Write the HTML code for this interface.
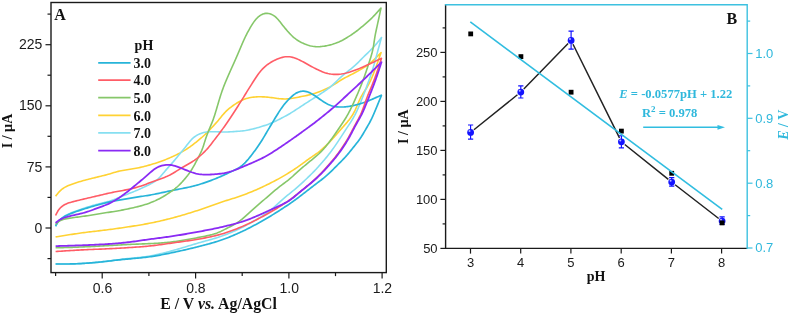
<!DOCTYPE html>
<html><head><meta charset="utf-8"><style>
html,body{margin:0;padding:0;background:#fff;}
body{width:789px;height:315px;overflow:hidden;font-family:"Liberation Sans",sans-serif;}
svg{display:block;will-change:transform;}
</style></head><body>
<svg width="789" height="315" viewBox="0 0 789 315">
<rect width="789" height="315" fill="#fff"/>
<path d="M55.60,196.30 L56.49,195.10 L57.39,193.91 L58.33,192.76 L59.33,191.66 L60.38,190.61 L61.48,189.63 L62.65,188.72 L63.87,187.89 L65.15,187.13 L66.46,186.44 L67.81,185.81 L69.19,185.22 L70.58,184.68 L71.99,184.16 L73.40,183.67 L74.82,183.19 L76.25,182.73 L77.69,182.28 L79.12,181.85 L80.56,181.42 L82.00,181.00 L83.45,180.60 L84.89,180.20 L86.34,179.81 L87.79,179.43 L89.25,179.05 L90.70,178.69 L92.16,178.32 L93.62,177.96 L95.07,177.60 L96.53,177.25 L97.99,176.89 L99.45,176.54 L100.91,176.19 L102.37,175.83 L103.82,175.47 L105.28,175.10 L106.73,174.71 L108.17,174.31 L109.61,173.90 L111.05,173.46 L112.48,173.02 L113.91,172.58 L115.35,172.16 L116.79,171.76 L118.24,171.40 L119.70,171.06 L121.17,170.76 L122.65,170.49 L124.12,170.23 L125.60,169.99 L127.08,169.75 L128.57,169.51 L130.05,169.27 L131.53,169.03 L133.01,168.79 L134.49,168.53 L135.96,168.26 L137.44,167.97 L138.91,167.67 L140.37,167.35 L141.83,167.01 L143.29,166.66 L144.75,166.29 L146.20,165.91 L147.65,165.52 L149.09,165.12 L150.54,164.71 L151.98,164.29 L153.41,163.85 L154.85,163.41 L156.28,162.95 L157.70,162.48 L159.12,162.00 L160.54,161.50 L161.95,160.99 L163.36,160.47 L164.75,159.93 L166.15,159.37 L167.54,158.80 L168.92,158.22 L170.30,157.62 L171.67,157.01 L173.03,156.39 L174.39,155.76 L175.75,155.11 L177.10,154.45 L178.44,153.78 L179.77,153.09 L181.09,152.39 L182.41,151.67 L183.71,150.92 L185.00,150.15 L186.27,149.36 L187.52,148.54 L188.76,147.69 L189.98,146.82 L191.19,145.93 L192.38,145.03 L193.57,144.11 L194.76,143.19 L195.93,142.26 L197.11,141.32 L198.27,140.38 L199.43,139.43 L200.58,138.46 L201.72,137.49 L202.85,136.49 L203.96,135.49 L205.06,134.47 L206.14,133.43 L207.22,132.38 L208.27,131.32 L209.32,130.24 L210.36,129.16 L211.38,128.07 L212.41,126.97 L213.43,125.87 L214.44,124.76 L215.45,123.65 L216.45,122.53 L217.44,121.41 L218.42,120.27 L219.37,119.11 L220.32,117.95 L221.26,116.78 L222.20,115.62 L223.16,114.47 L224.15,113.35 L225.16,112.25 L226.22,111.19 L227.31,110.17 L228.43,109.18 L229.58,108.22 L230.75,107.29 L231.95,106.39 L233.17,105.51 L234.40,104.66 L235.65,103.83 L236.92,103.04 L238.20,102.27 L239.51,101.54 L240.84,100.85 L242.18,100.20 L243.55,99.60 L244.94,99.06 L246.35,98.58 L247.78,98.16 L249.23,97.80 L250.69,97.50 L252.16,97.27 L253.65,97.08 L255.14,96.95 L256.63,96.86 L258.13,96.81 L259.63,96.79 L261.13,96.80 L262.62,96.84 L264.12,96.90 L265.62,96.99 L267.11,97.10 L268.61,97.25 L270.10,97.42 L271.58,97.61 L273.07,97.81 L274.55,98.03 L276.04,98.24 L277.53,98.43 L279.01,98.61 L280.50,98.75 L282.00,98.85 L283.49,98.91 L284.99,98.93 L286.48,98.89 L287.98,98.81 L289.47,98.68 L290.95,98.50 L292.43,98.29 L293.91,98.04 L295.38,97.76 L296.86,97.47 L298.33,97.18 L299.80,96.88 L301.27,96.58 L302.74,96.28 L304.21,95.98 L305.68,95.67 L307.14,95.35 L308.60,95.01 L310.06,94.64 L311.51,94.26 L312.95,93.85 L314.38,93.42 L315.81,92.96 L317.23,92.47 L318.64,91.96 L320.04,91.43 L321.43,90.87 L322.82,90.30 L324.19,89.70 L325.57,89.10 L326.93,88.47 L328.28,87.82 L329.61,87.14 L330.92,86.43 L332.22,85.68 L333.50,84.90 L334.76,84.10 L336.02,83.28 L337.27,82.46 L338.53,81.64 L339.80,80.83 L341.07,80.05 L342.36,79.28 L343.66,78.53 L344.97,77.81 L346.30,77.11 L347.63,76.42 L348.97,75.75 L350.31,75.07 L351.65,74.39 L352.99,73.71 L354.32,73.01 L355.64,72.31 L356.96,71.60 L358.28,70.87 L359.59,70.14 L360.89,69.40 L362.19,68.64 L363.47,67.87 L364.74,67.08 L366.00,66.26 L367.24,65.42 L368.45,64.54 L369.64,63.63 L370.80,62.69 L371.93,61.71 L373.04,60.70 L374.12,59.67 L375.19,58.62 L376.25,57.55 L377.29,56.47 L378.33,55.39 L379.37,54.31 L380.41,53.22 L381.10,52.50 L381.10,52.50 L380.61,53.92 L380.11,55.34 L379.62,56.76 L379.13,58.17 L378.63,59.59 L378.13,61.01 L377.63,62.42 L377.13,63.84 L376.62,65.25 L376.11,66.66 L375.59,68.07 L375.06,69.48 L374.54,70.88 L374.00,72.29 L373.45,73.68 L372.89,75.08 L372.32,76.47 L371.73,77.85 L371.13,79.22 L370.51,80.59 L369.86,81.94 L369.20,83.29 L368.51,84.62 L367.80,85.94 L367.05,87.24 L366.28,88.52 L365.47,89.78 L364.65,91.03 L363.82,92.27 L363.00,93.53 L362.22,94.80 L361.47,96.09 L360.77,97.41 L360.11,98.76 L359.49,100.12 L358.88,101.49 L358.30,102.87 L357.72,104.26 L357.14,105.64 L356.55,107.02 L355.94,108.39 L355.31,109.75 L354.65,111.10 L353.96,112.43 L353.23,113.74 L352.47,115.02 L351.66,116.28 L350.81,117.51 L349.93,118.72 L349.02,119.91 L348.08,121.08 L347.12,122.24 L346.15,123.38 L345.16,124.51 L344.17,125.64 L343.18,126.77 L342.18,127.89 L341.19,129.02 L340.20,130.15 L339.22,131.28 L338.24,132.42 L337.25,133.55 L336.26,134.68 L335.27,135.81 L334.27,136.93 L333.26,138.04 L332.25,139.15 L331.22,140.25 L330.19,141.34 L329.15,142.42 L328.11,143.50 L327.05,144.57 L325.98,145.62 L324.91,146.67 L323.82,147.70 L322.71,148.71 L321.58,149.70 L320.44,150.67 L319.27,151.60 L318.08,152.52 L316.87,153.41 L315.65,154.27 L314.41,155.12 L313.17,155.96 L311.92,156.80 L310.68,157.65 L309.45,158.50 L308.22,159.37 L307.00,160.24 L305.79,161.13 L304.59,162.03 L303.38,162.92 L302.18,163.82 L300.97,164.71 L299.75,165.59 L298.52,166.45 L297.29,167.31 L296.05,168.15 L294.80,168.98 L293.54,169.81 L292.28,170.62 L291.01,171.43 L289.75,172.23 L288.47,173.03 L287.20,173.82 L285.91,174.60 L284.63,175.38 L283.34,176.14 L282.04,176.89 L280.73,177.64 L279.42,178.37 L278.11,179.09 L276.78,179.80 L275.46,180.50 L274.13,181.20 L272.79,181.89 L271.46,182.57 L270.12,183.25 L268.77,183.92 L267.43,184.59 L266.08,185.25 L264.72,185.90 L263.37,186.55 L262.01,187.18 L260.65,187.81 L259.28,188.44 L257.91,189.05 L256.53,189.65 L255.16,190.25 L253.77,190.83 L252.39,191.41 L251.00,191.98 L249.61,192.54 L248.21,193.10 L246.81,193.64 L245.41,194.18 L244.00,194.71 L242.59,195.23 L241.18,195.74 L239.77,196.24 L238.35,196.73 L236.92,197.21 L235.50,197.68 L234.07,198.14 L232.64,198.59 L231.20,199.04 L229.77,199.48 L228.33,199.92 L226.90,200.37 L225.47,200.82 L224.04,201.27 L222.61,201.74 L221.18,202.21 L219.76,202.69 L218.34,203.18 L216.92,203.67 L215.51,204.17 L214.09,204.68 L212.68,205.18 L211.26,205.69 L209.85,206.20 L208.44,206.71 L207.03,207.22 L205.61,207.72 L204.20,208.23 L202.78,208.72 L201.36,209.21 L199.94,209.69 L198.51,210.17 L197.09,210.64 L195.66,211.11 L194.23,211.57 L192.80,212.02 L191.37,212.47 L189.93,212.92 L188.50,213.36 L187.06,213.80 L185.62,214.23 L184.18,214.66 L182.74,215.08 L181.30,215.50 L179.86,215.91 L178.41,216.32 L176.96,216.72 L175.52,217.12 L174.07,217.51 L172.62,217.90 L171.16,218.28 L169.71,218.66 L168.26,219.03 L166.80,219.40 L165.34,219.76 L163.88,220.12 L162.42,220.47 L160.96,220.82 L159.50,221.16 L158.03,221.49 L156.57,221.81 L155.10,222.13 L153.63,222.44 L152.16,222.74 L150.69,223.04 L149.21,223.33 L147.74,223.61 L146.26,223.89 L144.79,224.16 L143.31,224.42 L141.83,224.68 L140.35,224.93 L138.87,225.18 L137.39,225.43 L135.90,225.67 L134.42,225.90 L132.94,226.14 L131.45,226.37 L129.97,226.60 L128.48,226.82 L127.00,227.05 L125.51,227.27 L124.03,227.49 L122.54,227.70 L121.06,227.92 L119.57,228.13 L118.08,228.35 L116.60,228.56 L115.11,228.77 L113.62,228.97 L112.13,229.17 L110.65,229.37 L109.16,229.57 L107.67,229.76 L106.18,229.95 L104.69,230.13 L103.20,230.31 L101.70,230.49 L100.21,230.66 L98.72,230.84 L97.23,231.01 L95.74,231.18 L94.25,231.36 L92.75,231.53 L91.26,231.71 L89.77,231.89 L88.28,232.07 L86.79,232.25 L85.30,232.44 L83.81,232.64 L82.32,232.83 L80.84,233.04 L79.35,233.25 L77.86,233.46 L76.38,233.68 L74.89,233.90 L73.41,234.12 L71.92,234.35 L70.44,234.57 L68.95,234.80 L67.47,235.04 L65.99,235.27 L64.50,235.50 L63.02,235.74 L61.53,235.97 L60.05,236.20 L58.57,236.44 L57.08,236.67 L55.60,236.90" stroke="#ffd233" stroke-width="1.60" fill="none" stroke-linejoin="round"/>
<path d="M55.60,226.50 L56.23,225.17 L56.90,223.86 L57.64,222.60 L58.47,221.41 L59.41,220.28 L60.43,219.24 L61.54,218.26 L62.71,217.36 L63.94,216.52 L65.21,215.75 L66.52,215.03 L67.85,214.35 L69.21,213.72 L70.58,213.11 L71.96,212.54 L73.35,211.98 L74.76,211.44 L76.16,210.92 L77.57,210.41 L78.99,209.90 L80.40,209.41 L81.83,208.93 L83.25,208.46 L84.68,208.00 L86.11,207.54 L87.54,207.10 L88.98,206.66 L90.42,206.23 L91.86,205.81 L93.30,205.39 L94.74,204.98 L96.19,204.58 L97.64,204.18 L99.09,203.80 L100.54,203.42 L102.00,203.06 L103.45,202.70 L104.91,202.34 L106.36,201.97 L107.81,201.58 L109.25,201.17 L110.68,200.72 L112.10,200.24 L113.51,199.73 L114.91,199.20 L116.31,198.64 L117.70,198.08 L119.08,197.51 L120.47,196.94 L121.86,196.38 L123.26,195.81 L124.65,195.26 L126.05,194.71 L127.44,194.16 L128.84,193.61 L130.24,193.06 L131.63,192.50 L133.02,191.94 L134.41,191.37 L135.80,190.79 L137.18,190.21 L138.56,189.61 L139.93,189.00 L141.30,188.39 L142.66,187.77 L144.03,187.14 L145.38,186.49 L146.74,185.84 L148.08,185.19 L149.42,184.51 L150.75,183.82 L152.07,183.10 L153.36,182.35 L154.61,181.55 L155.83,180.69 L157.00,179.78 L158.12,178.80 L159.20,177.77 L160.23,176.70 L161.24,175.59 L162.22,174.46 L163.19,173.32 L164.16,172.17 L165.13,171.03 L166.11,169.89 L167.10,168.76 L168.09,167.64 L169.09,166.52 L170.09,165.40 L171.08,164.27 L172.07,163.14 L173.05,162.00 L174.01,160.86 L174.98,159.70 L175.94,158.55 L176.89,157.39 L177.85,156.23 L178.80,155.08 L179.76,153.92 L180.72,152.77 L181.68,151.62 L182.65,150.46 L183.60,149.31 L184.55,148.15 L185.49,146.98 L186.42,145.80 L187.34,144.61 L188.25,143.42 L189.17,142.25 L190.12,141.10 L191.11,139.98 L192.14,138.92 L193.23,137.92 L194.38,136.99 L195.59,136.12 L196.84,135.32 L198.13,134.60 L199.46,133.96 L200.83,133.41 L202.24,132.95 L203.67,132.57 L205.12,132.28 L206.60,132.05 L208.08,131.89 L209.57,131.78 L211.07,131.71 L212.56,131.68 L214.06,131.69 L215.56,131.72 L217.06,131.78 L218.56,131.85 L220.06,131.92 L221.55,131.98 L223.05,132.02 L224.55,132.03 L226.05,132.01 L227.54,131.95 L229.04,131.87 L230.54,131.78 L232.03,131.68 L233.53,131.59 L235.03,131.50 L236.53,131.41 L238.02,131.32 L239.52,131.20 L241.01,131.06 L242.50,130.90 L243.99,130.70 L245.47,130.48 L246.95,130.22 L248.42,129.94 L249.89,129.64 L251.35,129.32 L252.81,128.97 L254.27,128.61 L255.72,128.22 L257.16,127.82 L258.61,127.41 L260.05,126.98 L261.48,126.54 L262.91,126.09 L264.34,125.63 L265.76,125.15 L267.18,124.65 L268.58,124.13 L269.98,123.59 L271.37,123.03 L272.75,122.44 L274.12,121.83 L275.48,121.19 L276.83,120.54 L278.17,119.87 L279.51,119.18 L280.84,118.49 L282.17,117.80 L283.50,117.10 L284.82,116.39 L286.14,115.68 L287.46,114.95 L288.76,114.21 L290.06,113.46 L291.34,112.68 L292.62,111.89 L293.88,111.09 L295.14,110.27 L296.40,109.45 L297.65,108.63 L298.91,107.80 L300.16,106.97 L301.42,106.15 L302.67,105.33 L303.93,104.50 L305.18,103.69 L306.44,102.87 L307.71,102.06 L308.97,101.25 L310.24,100.44 L311.51,99.64 L312.78,98.84 L314.05,98.05 L315.32,97.25 L316.59,96.44 L317.86,95.64 L319.12,94.83 L320.38,94.01 L321.63,93.19 L322.88,92.36 L324.13,91.52 L325.37,90.67 L326.59,89.80 L327.80,88.92 L328.99,88.01 L330.16,87.07 L331.30,86.11 L332.43,85.12 L333.54,84.11 L334.63,83.08 L335.72,82.05 L336.80,81.01 L337.88,79.97 L338.97,78.93 L340.07,77.91 L341.17,76.89 L342.29,75.90 L343.43,74.91 L344.58,73.95 L345.74,73.00 L346.91,72.06 L348.09,71.13 L349.26,70.20 L350.44,69.27 L351.61,68.33 L352.77,67.37 L353.91,66.40 L355.03,65.41 L356.13,64.39 L357.22,63.36 L358.29,62.31 L359.35,61.25 L360.41,60.18 L361.46,59.12 L362.52,58.05 L363.58,56.99 L364.65,55.94 L365.72,54.89 L366.80,53.84 L367.88,52.80 L368.95,51.75 L370.02,50.70 L371.09,49.64 L372.14,48.56 L373.17,47.48 L374.19,46.38 L375.19,45.26 L376.17,44.12 L377.13,42.97 L378.08,41.81 L379.02,40.64 L379.95,39.46 L380.88,38.29 L381.50,37.50 L381.50,37.50 L381.10,38.95 L380.70,40.39 L380.30,41.84 L379.90,43.28 L379.50,44.73 L379.10,46.18 L378.71,47.62 L378.31,49.07 L377.91,50.52 L377.52,51.96 L377.13,53.41 L376.74,54.86 L376.36,56.31 L375.97,57.76 L375.58,59.21 L375.19,60.66 L374.79,62.10 L374.38,63.55 L373.96,64.99 L373.54,66.43 L373.11,67.86 L372.66,69.30 L372.21,70.73 L371.75,72.15 L371.28,73.58 L370.81,75.00 L370.33,76.42 L369.84,77.84 L369.34,79.26 L368.84,80.67 L368.33,82.08 L367.82,83.49 L367.30,84.90 L366.78,86.31 L366.26,87.71 L365.74,89.12 L365.21,90.52 L364.68,91.93 L364.14,93.33 L363.60,94.72 L363.05,96.12 L362.50,97.52 L361.95,98.91 L361.40,100.31 L360.84,101.70 L360.28,103.09 L359.71,104.48 L359.13,105.86 L358.55,107.25 L357.95,108.62 L357.33,109.99 L356.70,111.35 L356.05,112.70 L355.38,114.04 L354.69,115.37 L353.97,116.68 L353.23,117.98 L352.46,119.27 L351.68,120.55 L350.88,121.82 L350.07,123.08 L349.25,124.34 L348.42,125.59 L347.60,126.84 L346.77,128.09 L345.95,129.35 L345.13,130.61 L344.32,131.87 L343.51,133.13 L342.70,134.39 L341.88,135.65 L341.07,136.91 L340.25,138.17 L339.43,139.43 L338.61,140.68 L337.78,141.93 L336.94,143.17 L336.09,144.41 L335.24,145.64 L334.37,146.87 L333.50,148.09 L332.62,149.31 L331.74,150.52 L330.84,151.72 L329.94,152.92 L329.02,154.11 L328.10,155.29 L327.17,156.46 L326.22,157.62 L325.27,158.78 L324.30,159.93 L323.33,161.07 L322.35,162.21 L321.36,163.34 L320.37,164.46 L319.38,165.59 L318.38,166.70 L317.37,167.82 L316.36,168.92 L315.33,170.02 L314.30,171.10 L313.25,172.18 L312.20,173.25 L311.14,174.30 L310.07,175.36 L308.99,176.40 L307.91,177.44 L306.82,178.48 L305.73,179.51 L304.64,180.53 L303.54,181.56 L302.44,182.57 L301.34,183.59 L300.23,184.60 L299.11,185.60 L297.99,186.60 L296.86,187.59 L295.73,188.57 L294.59,189.54 L293.44,190.51 L292.28,191.46 L291.12,192.41 L289.96,193.36 L288.79,194.29 L287.62,195.23 L286.45,196.18 L285.29,197.13 L284.14,198.08 L282.99,199.05 L281.86,200.04 L280.75,201.04 L279.64,202.05 L278.55,203.08 L277.46,204.11 L276.37,205.14 L275.27,206.16 L274.16,207.17 L273.04,208.16 L271.90,209.13 L270.74,210.07 L269.55,210.99 L268.35,211.89 L267.14,212.76 L265.90,213.62 L264.66,214.46 L263.41,215.28 L262.15,216.10 L260.88,216.90 L259.61,217.69 L258.32,218.47 L257.04,219.24 L255.75,220.00 L254.45,220.76 L253.15,221.50 L251.84,222.24 L250.53,222.97 L249.22,223.70 L247.90,224.41 L246.58,225.12 L245.25,225.82 L243.92,226.51 L242.58,227.19 L241.24,227.85 L239.89,228.51 L238.54,229.16 L237.18,229.80 L235.82,230.42 L234.45,231.04 L233.08,231.64 L231.70,232.23 L230.32,232.81 L228.93,233.38 L227.53,233.94 L226.14,234.48 L224.74,235.02 L223.33,235.54 L221.92,236.04 L220.50,236.54 L219.08,237.01 L217.65,237.48 L216.22,237.93 L214.79,238.37 L213.35,238.79 L211.91,239.21 L210.47,239.62 L209.02,240.02 L207.58,240.43 L206.13,240.82 L204.68,241.22 L203.24,241.62 L201.79,242.02 L200.35,242.43 L198.91,242.85 L197.47,243.26 L196.03,243.69 L194.59,244.12 L193.15,244.55 L191.72,244.98 L190.28,245.42 L188.85,245.86 L187.41,246.30 L185.98,246.74 L184.54,247.17 L183.11,247.61 L181.67,248.03 L180.23,248.46 L178.79,248.88 L177.35,249.29 L175.91,249.70 L174.46,250.10 L173.01,250.50 L171.57,250.89 L170.12,251.28 L168.67,251.67 L167.22,252.05 L165.77,252.43 L164.31,252.80 L162.86,253.17 L161.40,253.53 L159.94,253.88 L158.48,254.22 L157.02,254.55 L155.55,254.86 L154.08,255.17 L152.61,255.46 L151.14,255.74 L149.66,256.00 L148.18,256.25 L146.70,256.48 L145.22,256.70 L143.73,256.90 L142.24,257.09 L140.76,257.27 L139.27,257.44 L137.77,257.61 L136.28,257.77 L134.79,257.92 L133.30,258.07 L131.81,258.22 L130.31,258.37 L128.82,258.52 L127.33,258.67 L125.84,258.83 L124.34,258.99 L122.85,259.16 L121.36,259.33 L119.87,259.51 L118.39,259.69 L116.90,259.88 L115.41,260.08 L113.92,260.27 L112.44,260.47 L110.95,260.67 L109.46,260.87 L107.97,261.06 L106.49,261.25 L105.00,261.44 L103.51,261.62 L102.02,261.80 L100.53,261.97 L99.04,262.13 L97.54,262.28 L96.05,262.42 L94.56,262.56 L93.06,262.69 L91.57,262.82 L90.07,262.94 L88.58,263.06 L87.08,263.16 L85.58,263.27 L84.09,263.37 L82.59,263.46 L81.09,263.55 L79.59,263.63 L78.10,263.70 L76.60,263.76 L75.10,263.82 L73.60,263.87 L72.10,263.91 L70.60,263.94 L69.10,263.96 L67.60,263.97 L66.10,263.97 L64.60,263.97 L63.10,263.96 L61.60,263.95 L60.10,263.94 L58.60,263.92 L57.10,263.91 L55.60,263.90" stroke="#86dff1" stroke-width="1.60" fill="none" stroke-linejoin="round"/>
<path d="M55.60,226.00 L56.29,224.72 L57.02,223.47 L57.84,222.27 L58.75,221.15 L59.76,220.10 L60.86,219.12 L62.02,218.21 L63.24,217.36 L64.51,216.58 L65.81,215.85 L67.14,215.18 L68.50,214.55 L69.88,213.95 L71.27,213.39 L72.66,212.85 L74.07,212.33 L75.48,211.82 L76.90,211.32 L78.32,210.83 L79.74,210.35 L81.17,209.87 L82.59,209.41 L84.03,208.96 L85.46,208.51 L86.89,208.07 L88.33,207.64 L89.77,207.21 L91.21,206.79 L92.66,206.37 L94.10,205.96 L95.54,205.55 L96.99,205.14 L98.44,204.74 L99.89,204.35 L101.34,203.96 L102.79,203.57 L104.24,203.20 L105.70,202.84 L107.16,202.49 L108.62,202.15 L110.09,201.83 L111.56,201.52 L113.03,201.22 L114.50,200.93 L115.98,200.65 L117.45,200.37 L118.93,200.10 L120.41,199.84 L121.89,199.58 L123.37,199.32 L124.85,199.07 L126.33,198.81 L127.81,198.56 L129.29,198.32 L130.77,198.07 L132.25,197.83 L133.73,197.59 L135.22,197.35 L136.70,197.12 L138.18,196.89 L139.67,196.67 L141.16,196.45 L142.64,196.23 L144.13,196.01 L145.61,195.78 L147.09,195.55 L148.57,195.30 L150.05,195.05 L151.53,194.78 L153.01,194.50 L154.48,194.22 L155.95,193.92 L157.42,193.62 L158.90,193.32 L160.36,193.01 L161.83,192.70 L163.30,192.38 L164.77,192.07 L166.24,191.75 L167.71,191.43 L169.17,191.12 L170.64,190.81 L172.11,190.50 L173.58,190.19 L175.05,189.89 L176.53,189.60 L178.00,189.31 L179.47,189.02 L180.95,188.74 L182.42,188.46 L183.90,188.17 L185.37,187.89 L186.84,187.59 L188.31,187.28 L189.78,186.97 L191.24,186.63 L192.70,186.28 L194.16,185.91 L195.61,185.53 L197.05,185.12 L198.50,184.70 L199.93,184.26 L201.36,183.81 L202.79,183.35 L204.21,182.87 L205.63,182.38 L207.05,181.88 L208.46,181.37 L209.87,180.86 L211.28,180.33 L212.68,179.79 L214.08,179.25 L215.48,178.70 L216.87,178.13 L218.25,177.56 L219.64,176.97 L221.01,176.37 L222.38,175.76 L223.75,175.14 L225.11,174.51 L226.47,173.87 L227.83,173.22 L229.18,172.58 L230.54,171.94 L231.90,171.31 L233.26,170.67 L234.62,170.03 L235.96,169.38 L237.29,168.69 L238.58,167.96 L239.83,167.17 L241.04,166.31 L242.20,165.38 L243.32,164.40 L244.40,163.37 L245.45,162.30 L246.47,161.20 L247.47,160.08 L248.45,158.95 L249.41,157.79 L250.35,156.63 L251.28,155.45 L252.20,154.26 L253.10,153.06 L254.00,151.86 L254.88,150.64 L255.76,149.42 L256.62,148.20 L257.48,146.96 L258.33,145.73 L259.18,144.49 L260.01,143.24 L260.84,141.98 L261.65,140.72 L262.45,139.45 L263.23,138.17 L264.00,136.88 L264.77,135.59 L265.53,134.30 L266.29,133.00 L267.04,131.70 L267.81,130.41 L268.57,129.12 L269.33,127.82 L270.10,126.53 L270.87,125.24 L271.64,123.95 L272.41,122.66 L273.18,121.37 L273.95,120.09 L274.73,118.80 L275.50,117.52 L276.29,116.24 L277.08,114.96 L277.87,113.68 L278.67,112.41 L279.48,111.15 L280.31,109.90 L281.14,108.65 L282.00,107.42 L282.88,106.21 L283.79,105.01 L284.72,103.84 L285.69,102.69 L286.67,101.57 L287.69,100.46 L288.72,99.37 L289.77,98.31 L290.85,97.27 L291.95,96.26 L293.09,95.30 L294.27,94.41 L295.50,93.59 L296.78,92.86 L298.10,92.25 L299.46,91.76 L300.86,91.41 L302.28,91.22 L303.71,91.20 L305.14,91.34 L306.56,91.63 L307.95,92.05 L309.33,92.59 L310.67,93.21 L311.98,93.91 L313.26,94.67 L314.52,95.48 L315.76,96.32 L316.99,97.18 L318.21,98.06 L319.42,98.94 L320.64,99.81 L321.87,100.67 L323.12,101.51 L324.38,102.32 L325.66,103.09 L326.96,103.81 L328.29,104.48 L329.65,105.07 L331.04,105.57 L332.46,106.00 L333.91,106.34 L335.37,106.60 L336.85,106.80 L338.33,106.93 L339.83,107.00 L341.32,107.02 L342.82,106.99 L344.31,106.91 L345.80,106.78 L347.29,106.60 L348.77,106.39 L350.25,106.14 L351.72,105.85 L353.19,105.55 L354.65,105.21 L356.11,104.85 L357.56,104.47 L359.00,104.07 L360.44,103.64 L361.87,103.19 L363.30,102.71 L364.71,102.22 L366.12,101.70 L367.52,101.16 L368.91,100.60 L370.30,100.03 L371.68,99.44 L373.06,98.85 L374.44,98.24 L375.81,97.63 L377.18,97.03 L378.55,96.42 L379.93,95.81 L381.30,95.20 L381.40,95.60 L380.82,96.99 L380.25,98.37 L379.67,99.76 L379.10,101.15 L378.53,102.53 L377.95,103.92 L377.38,105.31 L376.81,106.70 L376.23,108.08 L375.66,109.47 L375.08,110.86 L374.50,112.24 L373.91,113.62 L373.31,115.00 L372.70,116.37 L372.08,117.73 L371.43,119.08 L370.76,120.43 L370.07,121.76 L369.36,123.07 L368.62,124.38 L367.87,125.68 L367.12,126.98 L366.36,128.28 L365.61,129.57 L364.85,130.87 L364.10,132.17 L363.34,133.46 L362.58,134.75 L361.79,136.03 L360.99,137.29 L360.15,138.54 L359.29,139.76 L358.40,140.97 L357.49,142.16 L356.57,143.34 L355.63,144.52 L354.69,145.69 L353.75,146.86 L352.82,148.03 L351.88,149.20 L350.94,150.38 L350.01,151.55 L349.06,152.71 L348.10,153.87 L347.13,155.01 L346.14,156.14 L345.14,157.25 L344.11,158.35 L343.08,159.43 L342.03,160.51 L340.97,161.57 L339.91,162.63 L338.85,163.69 L337.78,164.75 L336.72,165.81 L335.66,166.88 L334.60,167.94 L333.55,169.01 L332.49,170.07 L331.42,171.13 L330.35,172.17 L329.26,173.21 L328.16,174.23 L327.04,175.23 L325.91,176.21 L324.76,177.17 L323.59,178.11 L322.41,179.04 L321.23,179.96 L320.03,180.87 L318.84,181.78 L317.64,182.69 L316.45,183.60 L315.25,184.51 L314.06,185.42 L312.87,186.33 L311.68,187.25 L310.50,188.17 L309.31,189.09 L308.12,190.01 L306.94,190.93 L305.75,191.85 L304.57,192.77 L303.38,193.69 L302.20,194.61 L301.01,195.53 L299.82,196.45 L298.63,197.37 L297.44,198.27 L296.23,199.17 L295.02,200.05 L293.80,200.93 L292.57,201.79 L291.34,202.65 L290.10,203.49 L288.86,204.33 L287.61,205.17 L286.36,206.00 L285.11,206.83 L283.85,207.66 L282.60,208.48 L281.34,209.29 L280.08,210.11 L278.81,210.91 L277.54,211.72 L276.27,212.52 L275.00,213.32 L273.73,214.11 L272.45,214.89 L271.16,215.67 L269.88,216.45 L268.59,217.22 L267.30,217.98 L266.00,218.74 L264.71,219.49 L263.41,220.24 L262.10,220.99 L260.80,221.73 L259.49,222.46 L258.18,223.19 L256.86,223.92 L255.54,224.64 L254.22,225.35 L252.90,226.05 L251.57,226.75 L250.24,227.44 L248.90,228.13 L247.56,228.81 L246.22,229.48 L244.87,230.14 L243.52,230.79 L242.16,231.44 L240.81,232.08 L239.45,232.71 L238.08,233.33 L236.71,233.95 L235.34,234.56 L233.96,235.15 L232.58,235.74 L231.19,236.32 L229.80,236.88 L228.41,237.44 L227.01,237.98 L225.61,238.51 L224.20,239.03 L222.79,239.54 L221.37,240.04 L219.95,240.52 L218.52,240.99 L217.09,241.44 L215.66,241.89 L214.22,242.32 L212.78,242.74 L211.34,243.15 L209.89,243.56 L208.45,243.96 L207.00,244.35 L205.55,244.73 L204.10,245.12 L202.64,245.50 L201.19,245.87 L199.74,246.25 L198.28,246.62 L196.83,246.99 L195.37,247.35 L193.91,247.72 L192.46,248.07 L191.00,248.43 L189.54,248.78 L188.08,249.12 L186.61,249.47 L185.15,249.80 L183.69,250.14 L182.22,250.47 L180.76,250.79 L179.29,251.11 L177.83,251.43 L176.36,251.75 L174.89,252.06 L173.42,252.37 L171.95,252.68 L170.48,252.99 L169.01,253.30 L167.54,253.60 L166.07,253.90 L164.60,254.20 L163.13,254.49 L161.66,254.78 L160.18,255.06 L158.71,255.33 L157.23,255.60 L155.75,255.86 L154.27,256.10 L152.79,256.34 L151.30,256.57 L149.82,256.78 L148.33,256.98 L146.84,257.17 L145.35,257.35 L143.86,257.52 L142.37,257.68 L140.88,257.84 L139.38,257.98 L137.89,258.12 L136.39,258.26 L134.90,258.39 L133.40,258.52 L131.90,258.65 L130.41,258.78 L128.91,258.91 L127.42,259.04 L125.92,259.18 L124.43,259.32 L122.94,259.47 L121.44,259.62 L119.95,259.78 L118.46,259.94 L116.97,260.11 L115.47,260.28 L113.98,260.46 L112.49,260.63 L111.00,260.81 L109.51,260.99 L108.02,261.16 L106.53,261.34 L105.04,261.51 L103.55,261.67 L102.05,261.83 L100.56,261.99 L99.07,262.14 L97.57,262.28 L96.08,262.42 L94.58,262.55 L93.09,262.68 L91.59,262.80 L90.09,262.92 L88.60,263.03 L87.10,263.14 L85.60,263.24 L84.11,263.34 L82.61,263.44 L81.11,263.53 L79.61,263.61 L78.11,263.69 L76.61,263.76 L75.11,263.82 L73.61,263.87 L72.11,263.92 L70.61,263.95 L69.11,263.98 L67.61,264.00 L66.11,264.01 L64.61,264.01 L63.11,264.01 L61.60,264.01 L60.10,264.01 L58.60,264.00 L57.10,264.00 L55.60,264.00" stroke="#27b4d9" stroke-width="1.70" fill="none" stroke-linejoin="round"/>
<path d="M55.60,224.50 L56.58,223.45 L57.61,222.46 L58.71,221.57 L59.91,220.80 L61.19,220.16 L62.54,219.64 L63.94,219.22 L65.39,218.88 L66.85,218.60 L68.33,218.35 L69.81,218.13 L71.30,217.92 L72.79,217.72 L74.27,217.53 L75.76,217.33 L77.25,217.14 L78.74,216.94 L80.23,216.74 L81.72,216.54 L83.20,216.33 L84.69,216.12 L86.17,215.90 L87.66,215.67 L89.14,215.43 L90.62,215.19 L92.10,214.94 L93.58,214.69 L95.06,214.44 L96.54,214.19 L98.02,213.95 L99.51,213.70 L100.99,213.47 L102.47,213.23 L103.96,213.01 L105.44,212.78 L106.93,212.56 L108.41,212.34 L109.90,212.12 L111.38,211.90 L112.87,211.68 L114.35,211.44 L115.83,211.20 L117.31,210.95 L118.79,210.70 L120.27,210.43 L121.74,210.15 L123.22,209.87 L124.69,209.57 L126.16,209.27 L127.63,208.97 L129.10,208.65 L130.57,208.34 L132.03,208.01 L133.50,207.68 L134.96,207.34 L136.42,206.99 L137.87,206.62 L139.33,206.25 L140.78,205.86 L142.22,205.46 L143.66,205.04 L145.10,204.60 L146.53,204.14 L147.95,203.65 L149.36,203.14 L150.76,202.61 L152.15,202.05 L153.53,201.47 L154.91,200.87 L156.27,200.24 L157.62,199.59 L158.96,198.92 L160.29,198.23 L161.61,197.52 L162.92,196.78 L164.20,196.01 L165.48,195.22 L166.75,194.42 L168.00,193.60 L169.26,192.78 L170.51,191.95 L171.75,191.11 L172.97,190.25 L174.17,189.36 L175.35,188.44 L176.50,187.48 L177.62,186.49 L178.71,185.47 L179.78,184.42 L180.83,183.34 L181.86,182.26 L182.87,181.15 L183.87,180.03 L184.85,178.89 L185.81,177.74 L186.75,176.57 L187.68,175.39 L188.58,174.19 L189.45,172.98 L190.31,171.74 L191.13,170.49 L191.93,169.22 L192.70,167.94 L193.45,166.64 L194.18,165.33 L194.89,164.01 L195.59,162.68 L196.29,161.35 L196.99,160.02 L197.69,158.70 L198.39,157.37 L199.08,156.04 L199.76,154.70 L200.42,153.35 L201.05,151.99 L201.65,150.62 L202.21,149.23 L202.74,147.83 L203.23,146.42 L203.70,144.99 L204.15,143.56 L204.59,142.13 L205.04,140.69 L205.50,139.27 L205.97,137.84 L206.47,136.43 L206.98,135.01 L207.50,133.61 L208.05,132.21 L208.60,130.82 L209.18,129.43 L209.76,128.04 L210.34,126.66 L210.92,125.28 L211.49,123.89 L212.05,122.50 L212.60,121.10 L213.12,119.69 L213.62,118.28 L214.11,116.86 L214.57,115.43 L215.03,114.00 L215.47,112.57 L215.90,111.13 L216.33,109.69 L216.76,108.25 L217.18,106.81 L217.60,105.37 L218.02,103.93 L218.44,102.49 L218.87,101.05 L219.30,99.61 L219.74,98.18 L220.19,96.74 L220.65,95.31 L221.11,93.88 L221.59,92.46 L222.08,91.04 L222.58,89.63 L223.10,88.22 L223.62,86.81 L224.17,85.41 L224.72,84.02 L225.28,82.63 L225.85,81.24 L226.43,79.85 L227.02,78.47 L227.61,77.09 L228.21,75.71 L228.81,74.34 L229.42,72.97 L230.03,71.60 L230.65,70.23 L231.26,68.86 L231.88,67.49 L232.50,66.12 L233.12,64.75 L233.74,63.38 L234.35,62.01 L234.97,60.64 L235.58,59.27 L236.18,57.90 L236.78,56.52 L237.38,55.15 L237.97,53.77 L238.56,52.38 L239.14,51.00 L239.72,49.62 L240.31,48.23 L240.89,46.85 L241.47,45.46 L242.06,44.08 L242.66,42.71 L243.26,41.33 L243.88,39.96 L244.51,38.60 L245.16,37.25 L245.81,35.90 L246.49,34.56 L247.18,33.23 L247.89,31.90 L248.60,30.58 L249.33,29.27 L250.08,27.97 L250.83,26.67 L251.61,25.39 L252.40,24.12 L253.23,22.87 L254.08,21.64 L254.98,20.45 L255.93,19.30 L256.93,18.21 L258.00,17.19 L259.13,16.24 L260.32,15.40 L261.57,14.68 L262.88,14.09 L264.24,13.66 L265.63,13.41 L267.04,13.34 L268.45,13.46 L269.84,13.76 L271.19,14.23 L272.49,14.85 L273.74,15.60 L274.92,16.46 L276.04,17.41 L277.10,18.45 L278.11,19.54 L279.08,20.67 L280.02,21.84 L280.94,23.02 L281.86,24.21 L282.78,25.39 L283.71,26.57 L284.66,27.73 L285.62,28.88 L286.59,30.03 L287.58,31.16 L288.58,32.27 L289.59,33.38 L290.63,34.46 L291.69,35.52 L292.77,36.55 L293.89,37.54 L295.05,38.48 L296.25,39.37 L297.48,40.22 L298.74,41.01 L300.04,41.75 L301.36,42.44 L302.71,43.10 L304.08,43.70 L305.46,44.27 L306.87,44.79 L308.28,45.26 L309.72,45.67 L311.16,46.03 L312.63,46.32 L314.10,46.53 L315.58,46.67 L317.06,46.74 L318.55,46.73 L320.04,46.65 L321.53,46.52 L323.02,46.33 L324.50,46.11 L325.97,45.84 L327.44,45.55 L328.90,45.22 L330.36,44.86 L331.81,44.47 L333.24,44.05 L334.67,43.59 L336.08,43.09 L337.47,42.54 L338.85,41.96 L340.21,41.33 L341.55,40.67 L342.88,39.97 L344.19,39.24 L345.49,38.49 L346.78,37.72 L348.05,36.93 L349.32,36.13 L350.58,35.31 L351.82,34.48 L353.06,33.63 L354.29,32.77 L355.51,31.89 L356.71,30.99 L357.90,30.08 L359.08,29.15 L360.24,28.20 L361.40,27.24 L362.54,26.27 L363.68,25.30 L364.82,24.32 L365.96,23.34 L367.09,22.35 L368.22,21.36 L369.33,20.36 L370.43,19.34 L371.52,18.30 L372.58,17.25 L373.63,16.17 L374.66,15.08 L375.67,13.98 L376.68,12.87 L377.68,11.75 L378.68,10.62 L379.67,9.50 L380.67,8.37 L381.00,8.00 L381.00,8.00 L380.69,9.47 L380.37,10.94 L380.06,12.40 L379.75,13.87 L379.43,15.34 L379.12,16.81 L378.81,18.28 L378.49,19.74 L378.18,21.21 L377.86,22.68 L377.54,24.15 L377.22,25.61 L376.90,27.08 L376.58,28.54 L376.26,30.01 L375.95,31.48 L375.64,32.95 L375.35,34.42 L375.08,35.90 L374.82,37.37 L374.58,38.85 L374.35,40.34 L374.13,41.82 L373.92,43.31 L373.69,44.79 L373.46,46.27 L373.20,47.75 L372.91,49.22 L372.59,50.68 L372.24,52.14 L371.86,53.59 L371.44,55.03 L371.01,56.46 L370.57,57.90 L370.11,59.33 L369.66,60.76 L369.20,62.19 L368.73,63.61 L368.27,65.04 L367.81,66.47 L367.34,67.90 L366.87,69.32 L366.40,70.75 L365.92,72.17 L365.43,73.59 L364.94,75.01 L364.45,76.42 L363.94,77.84 L363.43,79.25 L362.91,80.66 L362.38,82.06 L361.85,83.46 L361.30,84.86 L360.75,86.26 L360.19,87.65 L359.62,89.04 L359.04,90.42 L358.46,91.81 L357.87,93.19 L357.27,94.57 L356.67,95.94 L356.07,97.32 L355.46,98.69 L354.85,100.06 L354.24,101.43 L353.61,102.79 L352.99,104.16 L352.35,105.52 L351.71,106.87 L351.05,108.22 L350.39,109.57 L349.71,110.91 L349.02,112.24 L348.31,113.56 L347.58,114.87 L346.84,116.18 L346.08,117.47 L345.30,118.75 L344.50,120.02 L343.69,121.29 L342.87,122.54 L342.04,123.79 L341.20,125.04 L340.36,126.28 L339.51,127.52 L338.66,128.75 L337.81,129.99 L336.96,131.23 L336.11,132.46 L335.26,133.70 L334.40,134.93 L333.54,136.16 L332.67,137.39 L331.80,138.61 L330.92,139.82 L330.03,141.03 L329.13,142.23 L328.21,143.42 L327.29,144.60 L326.34,145.77 L325.39,146.92 L324.41,148.06 L323.42,149.18 L322.40,150.29 L321.37,151.37 L320.31,152.43 L319.23,153.47 L318.12,154.48 L317.00,155.48 L315.86,156.46 L314.72,157.42 L313.56,158.38 L312.40,159.33 L311.23,160.27 L310.07,161.22 L308.91,162.17 L307.75,163.13 L306.59,164.09 L305.44,165.05 L304.29,166.01 L303.14,166.98 L302.00,167.95 L300.86,168.93 L299.73,169.92 L298.61,170.92 L297.49,171.92 L296.39,172.93 L295.28,173.94 L294.17,174.96 L293.07,175.97 L291.95,176.98 L290.83,177.97 L289.68,178.94 L288.53,179.89 L287.35,180.82 L286.16,181.73 L284.96,182.62 L283.75,183.51 L282.54,184.40 L281.33,185.30 L280.14,186.20 L278.95,187.12 L277.78,188.06 L276.62,189.01 L275.46,189.96 L274.31,190.93 L273.17,191.90 L272.03,192.88 L270.89,193.86 L269.76,194.84 L268.62,195.82 L267.49,196.80 L266.35,197.79 L265.22,198.77 L264.08,199.75 L262.94,200.73 L261.80,201.70 L260.66,202.68 L259.52,203.66 L258.38,204.64 L257.25,205.62 L256.11,206.60 L254.98,207.59 L253.86,208.58 L252.73,209.58 L251.62,210.58 L250.51,211.59 L249.40,212.60 L248.30,213.62 L247.19,214.63 L246.08,215.64 L244.96,216.64 L243.83,217.62 L242.68,218.59 L241.52,219.55 L240.35,220.47 L239.15,221.37 L237.93,222.24 L236.68,223.06 L235.41,223.85 L234.12,224.60 L232.80,225.31 L231.47,226.01 L230.14,226.69 L228.80,227.36 L227.46,228.04 L226.12,228.72 L224.79,229.41 L223.45,230.09 L222.11,230.75 L220.76,231.40 L219.39,232.02 L218.01,232.60 L216.62,233.14 L215.20,233.63 L213.78,234.08 L212.34,234.50 L210.89,234.88 L209.43,235.24 L207.97,235.57 L206.51,235.89 L205.04,236.20 L203.57,236.49 L202.09,236.79 L200.62,237.08 L199.15,237.36 L197.67,237.65 L196.20,237.93 L194.72,238.21 L193.25,238.49 L191.77,238.76 L190.30,239.03 L188.82,239.29 L187.34,239.55 L185.86,239.81 L184.38,240.06 L182.90,240.30 L181.42,240.55 L179.94,240.78 L178.45,241.01 L176.97,241.23 L175.48,241.45 L174.00,241.65 L172.51,241.85 L171.02,242.03 L169.53,242.21 L168.04,242.37 L166.54,242.52 L165.05,242.66 L163.55,242.79 L162.06,242.90 L160.56,243.01 L159.06,243.10 L157.56,243.19 L156.07,243.28 L154.57,243.36 L153.07,243.44 L151.57,243.52 L150.07,243.59 L148.57,243.66 L147.07,243.73 L145.57,243.80 L144.07,243.86 L142.57,243.92 L141.07,243.98 L139.57,244.03 L138.07,244.09 L136.57,244.14 L135.07,244.20 L133.57,244.26 L132.07,244.32 L130.57,244.39 L129.07,244.46 L127.57,244.53 L126.07,244.61 L124.57,244.69 L123.08,244.77 L121.58,244.85 L120.08,244.93 L118.58,245.02 L117.08,245.10 L115.58,245.18 L114.08,245.27 L112.58,245.35 L111.09,245.43 L109.59,245.52 L108.09,245.60 L106.59,245.69 L105.09,245.77 L103.59,245.86 L102.09,245.94 L100.59,246.03 L99.10,246.11 L97.60,246.19 L96.10,246.28 L94.60,246.36 L93.10,246.44 L91.60,246.52 L90.10,246.59 L88.60,246.67 L87.10,246.74 L85.60,246.82 L84.11,246.88 L82.61,246.95 L81.11,247.01 L79.61,247.07 L78.11,247.13 L76.61,247.19 L75.11,247.24 L73.61,247.29 L72.11,247.33 L70.60,247.38 L69.10,247.42 L67.60,247.47 L66.10,247.51 L64.60,247.55 L63.10,247.59 L61.60,247.63 L60.10,247.67 L58.60,247.71 L57.10,247.76 L55.60,247.80" stroke="#86c76a" stroke-width="1.60" fill="none" stroke-linejoin="round"/>
<path d="M55.60,215.50 L56.23,214.15 L56.89,212.82 L57.60,211.52 L58.38,210.28 L59.25,209.10 L60.21,208.01 L61.27,207.00 L62.41,206.09 L63.62,205.27 L64.90,204.55 L66.23,203.91 L67.60,203.35 L69.00,202.86 L70.43,202.42 L71.87,202.01 L73.31,201.63 L74.77,201.25 L76.22,200.89 L77.68,200.53 L79.14,200.17 L80.59,199.82 L82.05,199.47 L83.51,199.12 L84.97,198.78 L86.43,198.43 L87.89,198.09 L89.35,197.75 L90.82,197.42 L92.28,197.08 L93.74,196.74 L95.20,196.40 L96.66,196.07 L98.12,195.72 L99.58,195.38 L101.04,195.03 L102.50,194.69 L103.96,194.34 L105.42,193.99 L106.88,193.65 L108.34,193.32 L109.81,192.99 L111.27,192.68 L112.74,192.38 L114.21,192.08 L115.69,191.80 L117.16,191.52 L118.64,191.25 L120.11,190.97 L121.59,190.70 L123.06,190.42 L124.53,190.14 L126.01,189.86 L127.48,189.56 L128.94,189.26 L130.41,188.94 L131.87,188.60 L133.33,188.25 L134.78,187.87 L136.22,187.47 L137.66,187.05 L139.09,186.61 L140.52,186.14 L141.94,185.66 L143.35,185.16 L144.76,184.65 L146.17,184.13 L147.58,183.61 L148.99,183.10 L150.40,182.58 L151.81,182.07 L153.22,181.57 L154.63,181.06 L156.04,180.56 L157.46,180.06 L158.87,179.55 L160.28,179.04 L161.68,178.51 L163.08,177.97 L164.48,177.42 L165.86,176.85 L167.23,176.25 L168.59,175.61 L169.93,174.95 L171.25,174.25 L172.56,173.52 L173.84,172.75 L175.12,171.97 L176.39,171.17 L177.65,170.37 L178.92,169.57 L180.20,168.78 L181.48,168.00 L182.77,167.24 L184.07,166.48 L185.37,165.74 L186.67,164.99 L187.97,164.25 L189.27,163.49 L190.56,162.73 L191.84,161.95 L193.10,161.15 L194.35,160.33 L195.58,159.47 L196.78,158.58 L197.96,157.66 L199.12,156.71 L200.26,155.74 L201.38,154.75 L202.49,153.74 L203.57,152.70 L204.64,151.65 L205.68,150.57 L206.70,149.48 L207.69,148.36 L208.66,147.21 L209.61,146.05 L210.54,144.88 L211.46,143.70 L212.37,142.50 L213.28,141.31 L214.19,140.12 L215.10,138.93 L216.02,137.74 L216.94,136.55 L217.86,135.37 L218.77,134.18 L219.68,132.98 L220.58,131.79 L221.47,130.58 L222.36,129.37 L223.24,128.15 L224.11,126.93 L224.98,125.71 L225.84,124.49 L226.70,123.26 L227.56,122.03 L228.41,120.79 L229.25,119.55 L230.09,118.31 L230.92,117.06 L231.75,115.81 L232.57,114.55 L233.38,113.29 L234.20,112.03 L235.01,110.77 L235.81,109.50 L236.62,108.24 L237.42,106.97 L238.22,105.70 L239.02,104.43 L239.82,103.16 L240.62,101.89 L241.42,100.62 L242.21,99.35 L243.00,98.08 L243.79,96.80 L244.58,95.52 L245.37,94.25 L246.16,92.97 L246.95,91.70 L247.74,90.42 L248.53,89.14 L249.32,87.87 L250.11,86.60 L250.91,85.33 L251.71,84.06 L252.52,82.79 L253.33,81.53 L254.14,80.27 L254.97,79.02 L255.79,77.77 L256.63,76.52 L257.48,75.29 L258.35,74.07 L259.24,72.86 L260.16,71.68 L261.11,70.53 L262.10,69.41 L263.13,68.33 L264.20,67.30 L265.31,66.31 L266.47,65.36 L267.66,64.47 L268.89,63.61 L270.14,62.80 L271.42,62.02 L272.72,61.29 L274.04,60.59 L275.39,59.94 L276.75,59.33 L278.13,58.75 L279.53,58.23 L280.95,57.76 L282.38,57.36 L283.82,57.04 L285.28,56.81 L286.74,56.69 L288.20,56.69 L289.67,56.80 L291.12,57.03 L292.56,57.35 L293.98,57.77 L295.39,58.25 L296.78,58.79 L298.15,59.38 L299.51,60.00 L300.86,60.66 L302.19,61.34 L303.51,62.06 L304.81,62.79 L306.12,63.53 L307.42,64.28 L308.72,65.02 L310.03,65.74 L311.35,66.46 L312.67,67.16 L314.01,67.85 L315.34,68.53 L316.69,69.19 L318.04,69.84 L319.40,70.47 L320.77,71.08 L322.15,71.66 L323.54,72.21 L324.95,72.70 L326.37,73.14 L327.81,73.52 L329.27,73.84 L330.74,74.08 L332.21,74.26 L333.70,74.37 L335.19,74.42 L336.68,74.41 L338.17,74.35 L339.66,74.22 L341.14,74.04 L342.62,73.80 L344.08,73.52 L345.54,73.19 L346.99,72.82 L348.43,72.41 L349.87,71.98 L351.29,71.52 L352.71,71.04 L354.13,70.54 L355.53,70.03 L356.93,69.49 L358.33,68.94 L359.71,68.37 L361.10,67.78 L362.47,67.18 L363.84,66.58 L365.21,65.97 L366.58,65.35 L367.94,64.72 L369.30,64.09 L370.66,63.46 L372.02,62.82 L373.38,62.18 L374.73,61.53 L376.09,60.89 L377.44,60.24 L378.79,59.59 L380.15,58.95 L381.50,58.30 L381.50,58.30 L381.04,59.73 L380.57,61.15 L380.11,62.58 L379.65,64.01 L379.18,65.43 L378.71,66.86 L378.24,68.28 L377.76,69.71 L377.28,71.13 L376.79,72.54 L376.29,73.96 L375.79,75.37 L375.28,76.79 L374.76,78.20 L374.24,79.60 L373.71,81.01 L373.17,82.41 L372.62,83.80 L372.06,85.19 L371.49,86.58 L370.91,87.96 L370.33,89.34 L369.74,90.72 L369.16,92.11 L368.58,93.49 L368.02,94.88 L367.48,96.28 L366.95,97.68 L366.43,99.09 L365.92,100.50 L365.42,101.92 L364.92,103.33 L364.43,104.75 L363.93,106.16 L363.42,107.58 L362.91,108.99 L362.38,110.39 L361.82,111.78 L361.25,113.16 L360.64,114.53 L360.00,115.88 L359.33,117.22 L358.63,118.55 L357.92,119.87 L357.20,121.18 L356.47,122.49 L355.75,123.81 L355.03,125.13 L354.31,126.45 L353.61,127.77 L352.91,129.10 L352.22,130.43 L351.53,131.76 L350.84,133.09 L350.14,134.42 L349.44,135.74 L348.72,137.06 L347.98,138.37 L347.22,139.66 L346.45,140.94 L345.66,142.22 L344.86,143.48 L344.04,144.74 L343.21,146.00 L342.38,147.24 L341.54,148.49 L340.69,149.72 L339.83,150.95 L338.96,152.18 L338.08,153.39 L337.19,154.59 L336.27,155.78 L335.35,156.96 L334.41,158.13 L333.46,159.29 L332.50,160.44 L331.53,161.59 L330.55,162.72 L329.57,163.86 L328.58,164.99 L327.59,166.12 L326.60,167.25 L325.61,168.37 L324.61,169.49 L323.60,170.60 L322.58,171.70 L321.55,172.79 L320.51,173.87 L319.45,174.93 L318.38,175.98 L317.30,177.02 L316.20,178.05 L315.10,179.06 L313.99,180.07 L312.87,181.06 L311.74,182.06 L310.61,183.04 L309.47,184.02 L308.33,185.00 L307.19,185.96 L306.04,186.93 L304.88,187.89 L303.73,188.84 L302.57,189.79 L301.40,190.74 L300.24,191.69 L299.07,192.63 L297.90,193.57 L296.73,194.51 L295.56,195.45 L294.39,196.38 L293.20,197.31 L292.01,198.22 L290.81,199.11 L289.60,199.99 L288.37,200.86 L287.14,201.71 L285.89,202.55 L284.64,203.38 L283.39,204.20 L282.13,205.01 L280.86,205.82 L279.59,206.62 L278.32,207.41 L277.04,208.20 L275.76,208.98 L274.47,209.75 L273.18,210.52 L271.89,211.28 L270.59,212.03 L269.29,212.78 L267.99,213.52 L266.68,214.25 L265.37,214.98 L264.05,215.71 L262.74,216.43 L261.42,217.14 L260.09,217.85 L258.77,218.55 L257.44,219.24 L256.10,219.93 L254.77,220.61 L253.43,221.29 L252.08,221.95 L250.73,222.61 L249.38,223.26 L248.03,223.90 L246.67,224.53 L245.30,225.16 L243.93,225.77 L242.56,226.37 L241.18,226.96 L239.79,227.54 L238.41,228.11 L237.02,228.67 L235.62,229.22 L234.22,229.76 L232.82,230.29 L231.41,230.81 L230.00,231.31 L228.58,231.81 L227.16,232.29 L225.73,232.75 L224.30,233.21 L222.87,233.65 L221.43,234.07 L219.99,234.48 L218.54,234.88 L217.09,235.26 L215.63,235.62 L214.18,235.98 L212.71,236.32 L211.25,236.64 L209.78,236.96 L208.32,237.27 L206.85,237.57 L205.37,237.86 L203.90,238.15 L202.43,238.43 L200.95,238.70 L199.48,238.97 L198.00,239.23 L196.52,239.49 L195.04,239.73 L193.56,239.97 L192.08,240.20 L190.59,240.43 L189.11,240.65 L187.63,240.87 L186.14,241.08 L184.65,241.29 L183.17,241.50 L181.68,241.71 L180.20,241.91 L178.71,242.11 L177.22,242.31 L175.73,242.52 L174.25,242.72 L172.76,242.93 L171.28,243.13 L169.79,243.34 L168.30,243.55 L166.82,243.77 L165.33,243.98 L163.85,244.20 L162.36,244.41 L160.88,244.62 L159.39,244.83 L157.91,245.03 L156.42,245.22 L154.93,245.41 L153.44,245.59 L151.95,245.76 L150.46,245.92 L148.96,246.07 L147.47,246.22 L145.98,246.36 L144.48,246.49 L142.99,246.61 L141.49,246.73 L140.00,246.85 L138.50,246.96 L137.00,247.07 L135.51,247.17 L134.01,247.27 L132.51,247.37 L131.01,247.47 L129.52,247.56 L128.02,247.66 L126.52,247.75 L125.02,247.84 L123.53,247.93 L122.03,248.01 L120.53,248.10 L119.03,248.19 L117.53,248.27 L116.04,248.35 L114.54,248.44 L113.04,248.52 L111.54,248.60 L110.04,248.67 L108.54,248.75 L107.04,248.82 L105.55,248.89 L104.05,248.95 L102.55,249.02 L101.05,249.08 L99.55,249.14 L98.05,249.20 L96.55,249.26 L95.05,249.32 L93.55,249.38 L92.05,249.44 L90.55,249.50 L89.05,249.56 L87.56,249.63 L86.06,249.70 L84.56,249.77 L83.06,249.84 L81.56,249.92 L80.06,250.00 L78.56,250.08 L77.07,250.16 L75.57,250.25 L74.07,250.34 L72.57,250.43 L71.07,250.52 L69.58,250.61 L68.08,250.71 L66.58,250.80 L65.08,250.90 L63.59,250.99 L62.09,251.09 L60.59,251.18 L59.09,251.28 L57.60,251.37 L56.10,251.47 L55.60,251.50" stroke="#ff5c66" stroke-width="1.60" fill="none" stroke-linejoin="round"/>
<path d="M55.60,223.00 L56.69,222.04 L57.82,221.11 L58.99,220.27 L60.24,219.51 L61.54,218.84 L62.89,218.25 L64.28,217.72 L65.70,217.25 L67.13,216.83 L68.58,216.43 L70.03,216.07 L71.49,215.72 L72.95,215.38 L74.41,215.06 L75.88,214.73 L77.34,214.41 L78.81,214.08 L80.27,213.74 L81.72,213.38 L83.17,213.00 L84.62,212.60 L86.06,212.18 L87.49,211.73 L88.91,211.26 L90.33,210.77 L91.74,210.26 L93.14,209.74 L94.55,209.21 L95.95,208.68 L97.35,208.14 L98.76,207.61 L100.16,207.09 L101.57,206.56 L102.97,206.04 L104.37,205.51 L105.77,204.97 L107.16,204.40 L108.53,203.81 L109.89,203.18 L111.23,202.51 L112.55,201.81 L113.86,201.08 L115.15,200.32 L116.43,199.54 L117.69,198.73 L118.95,197.91 L120.19,197.08 L121.43,196.22 L122.65,195.35 L123.86,194.47 L125.06,193.57 L126.25,192.66 L127.43,191.73 L128.60,190.80 L129.77,189.85 L130.93,188.90 L132.09,187.95 L133.24,186.99 L134.40,186.04 L135.56,185.08 L136.71,184.12 L137.87,183.17 L139.03,182.21 L140.18,181.25 L141.33,180.29 L142.48,179.33 L143.63,178.36 L144.77,177.39 L145.91,176.41 L147.04,175.42 L148.16,174.43 L149.28,173.43 L150.41,172.44 L151.54,171.46 L152.69,170.51 L153.86,169.59 L155.07,168.73 L156.32,167.93 L157.61,167.22 L158.95,166.60 L160.33,166.07 L161.74,165.64 L163.18,165.31 L164.63,165.06 L166.11,164.91 L167.58,164.85 L169.06,164.88 L170.54,165.01 L172.00,165.23 L173.46,165.53 L174.90,165.90 L176.32,166.34 L177.74,166.82 L179.14,167.33 L180.54,167.87 L181.94,168.42 L183.33,168.99 L184.72,169.55 L186.11,170.11 L187.50,170.67 L188.90,171.22 L190.30,171.75 L191.71,172.26 L193.12,172.73 L194.55,173.16 L196.00,173.54 L197.45,173.86 L198.92,174.11 L200.40,174.30 L201.89,174.44 L203.38,174.53 L204.87,174.58 L206.37,174.59 L207.87,174.58 L209.37,174.54 L210.87,174.48 L212.37,174.40 L213.86,174.31 L215.36,174.20 L216.85,174.07 L218.34,173.92 L219.83,173.74 L221.32,173.55 L222.80,173.32 L224.28,173.07 L225.75,172.78 L227.21,172.46 L228.66,172.10 L230.10,171.69 L231.53,171.25 L232.95,170.77 L234.35,170.26 L235.75,169.72 L237.14,169.16 L238.53,168.58 L239.91,168.00 L241.29,167.41 L242.67,166.83 L244.05,166.24 L245.44,165.66 L246.82,165.08 L248.20,164.49 L249.58,163.90 L250.96,163.31 L252.33,162.71 L253.71,162.11 L255.08,161.50 L256.45,160.89 L257.81,160.26 L259.17,159.63 L260.52,158.98 L261.87,158.32 L263.21,157.64 L264.54,156.95 L265.86,156.24 L267.17,155.51 L268.46,154.76 L269.75,153.99 L271.03,153.20 L272.30,152.40 L273.56,151.60 L274.82,150.78 L276.08,149.96 L277.33,149.14 L278.59,148.31 L279.84,147.48 L281.09,146.65 L282.33,145.82 L283.58,144.98 L284.82,144.13 L286.06,143.29 L287.29,142.44 L288.53,141.59 L289.76,140.73 L290.99,139.87 L292.22,139.01 L293.44,138.14 L294.67,137.27 L295.89,136.40 L297.11,135.53 L298.32,134.65 L299.54,133.77 L300.76,132.90 L301.97,132.02 L303.19,131.14 L304.41,130.26 L305.62,129.38 L306.84,128.50 L308.05,127.62 L309.26,126.73 L310.47,125.85 L311.68,124.96 L312.88,124.06 L314.08,123.16 L315.28,122.25 L316.46,121.33 L317.65,120.41 L318.82,119.48 L320.00,118.55 L321.17,117.61 L322.34,116.67 L323.50,115.72 L324.67,114.78 L325.83,113.83 L326.99,112.88 L328.15,111.93 L329.31,110.97 L330.46,110.01 L331.61,109.05 L332.75,108.07 L333.89,107.09 L335.02,106.11 L336.14,105.11 L337.26,104.11 L338.38,103.11 L339.48,102.10 L340.59,101.08 L341.69,100.07 L342.79,99.05 L343.90,98.03 L345.00,97.01 L346.10,95.99 L347.20,94.97 L348.30,93.95 L349.40,92.93 L350.50,91.91 L351.61,90.90 L352.71,89.88 L353.81,88.86 L354.91,87.84 L356.02,86.82 L357.11,85.80 L358.21,84.78 L359.31,83.76 L360.40,82.73 L361.49,81.70 L362.58,80.66 L363.67,79.63 L364.75,78.59 L365.83,77.55 L366.90,76.50 L367.98,75.45 L369.05,74.40 L370.12,73.35 L371.19,72.30 L372.26,71.25 L373.32,70.19 L374.39,69.14 L375.46,68.08 L376.52,67.02 L377.59,65.97 L378.65,64.91 L379.72,63.86 L380.79,62.80 L381.50,62.10 L381.50,62.10 L381.04,63.53 L380.58,64.96 L380.12,66.39 L379.66,67.81 L379.19,69.24 L378.72,70.67 L378.25,72.09 L377.77,73.52 L377.29,74.94 L376.80,76.36 L376.30,77.77 L375.80,79.19 L375.30,80.60 L374.78,82.01 L374.27,83.42 L373.74,84.83 L373.21,86.23 L372.68,87.64 L372.14,89.04 L371.60,90.44 L371.05,91.83 L370.50,93.23 L369.95,94.63 L369.40,96.02 L368.84,97.42 L368.29,98.81 L367.73,100.21 L367.17,101.60 L366.62,102.99 L366.05,104.39 L365.49,105.78 L364.92,107.16 L364.33,108.55 L363.74,109.92 L363.13,111.29 L362.50,112.66 L361.85,114.01 L361.18,115.34 L360.47,116.67 L359.75,117.98 L359.02,119.29 L358.27,120.59 L357.53,121.90 L356.79,123.20 L356.06,124.51 L355.34,125.83 L354.63,127.15 L353.93,128.48 L353.23,129.81 L352.54,131.14 L351.85,132.48 L351.16,133.81 L350.46,135.13 L349.75,136.45 L349.02,137.77 L348.27,139.07 L347.51,140.36 L346.72,141.63 L345.93,142.91 L345.11,144.17 L344.29,145.42 L343.46,146.67 L342.63,147.92 L341.78,149.16 L340.93,150.39 L340.06,151.62 L339.19,152.84 L338.29,154.05 L337.39,155.24 L336.47,156.42 L335.53,157.60 L334.58,158.76 L333.61,159.91 L332.64,161.05 L331.66,162.18 L330.67,163.31 L329.68,164.44 L328.68,165.56 L327.69,166.69 L326.69,167.81 L325.68,168.92 L324.67,170.03 L323.65,171.13 L322.62,172.22 L321.58,173.30 L320.53,174.37 L319.46,175.42 L318.37,176.46 L317.28,177.49 L316.18,178.50 L315.06,179.51 L313.94,180.51 L312.81,181.49 L311.67,182.48 L310.53,183.45 L309.38,184.41 L308.23,185.37 L307.06,186.32 L305.90,187.26 L304.72,188.20 L303.55,189.14 L302.37,190.07 L301.20,191.00 L300.03,191.94 L298.87,192.89 L297.71,193.85 L296.57,194.82 L295.43,195.79 L294.29,196.76 L293.13,197.71 L291.96,198.64 L290.76,199.52 L289.52,200.37 L288.26,201.17 L286.98,201.93 L285.67,202.66 L284.34,203.36 L283.00,204.03 L281.66,204.69 L280.30,205.34 L278.94,205.98 L277.58,206.61 L276.22,207.23 L274.85,207.85 L273.48,208.48 L272.11,209.09 L270.75,209.72 L269.38,210.34 L268.02,210.96 L266.65,211.58 L265.29,212.21 L263.92,212.83 L262.56,213.46 L261.19,214.08 L259.82,214.70 L258.45,215.31 L257.08,215.91 L255.70,216.51 L254.32,217.10 L252.93,217.68 L251.55,218.25 L250.15,218.80 L248.75,219.34 L247.35,219.87 L245.93,220.37 L244.52,220.87 L243.09,221.34 L241.67,221.80 L240.23,222.25 L238.79,222.68 L237.35,223.09 L235.91,223.50 L234.46,223.89 L233.01,224.27 L231.55,224.65 L230.10,225.01 L228.64,225.37 L227.18,225.72 L225.72,226.07 L224.26,226.42 L222.80,226.76 L221.34,227.10 L219.87,227.43 L218.41,227.76 L216.94,228.08 L215.48,228.40 L214.01,228.71 L212.54,229.01 L211.07,229.31 L209.59,229.61 L208.12,229.90 L206.65,230.19 L205.17,230.47 L203.70,230.75 L202.22,231.03 L200.75,231.31 L199.27,231.58 L197.80,231.86 L196.32,232.13 L194.85,232.40 L193.37,232.67 L191.89,232.94 L190.41,233.21 L188.94,233.47 L187.46,233.73 L185.98,233.99 L184.50,234.25 L183.02,234.50 L181.54,234.75 L180.06,234.99 L178.58,235.23 L177.10,235.47 L175.61,235.70 L174.13,235.93 L172.64,236.16 L171.16,236.37 L169.67,236.59 L168.19,236.80 L166.70,237.00 L165.21,237.20 L163.72,237.40 L162.24,237.60 L160.75,237.79 L159.26,237.99 L157.77,238.18 L156.28,238.37 L154.79,238.57 L153.31,238.77 L151.82,238.97 L150.33,239.17 L148.84,239.37 L147.36,239.58 L145.87,239.79 L144.39,240.01 L142.90,240.22 L141.41,240.44 L139.93,240.65 L138.44,240.86 L136.96,241.07 L135.47,241.28 L133.98,241.49 L132.49,241.68 L131.01,241.88 L129.52,242.07 L128.03,242.25 L126.54,242.42 L125.04,242.59 L123.55,242.76 L122.06,242.91 L120.57,243.06 L119.07,243.21 L117.58,243.34 L116.08,243.47 L114.59,243.59 L113.09,243.71 L111.59,243.82 L110.09,243.92 L108.60,244.02 L107.10,244.11 L105.60,244.20 L104.10,244.28 L102.60,244.36 L101.10,244.44 L99.60,244.51 L98.10,244.59 L96.60,244.66 L95.11,244.73 L93.61,244.80 L92.11,244.86 L90.61,244.93 L89.11,244.99 L87.61,245.06 L86.11,245.12 L84.61,245.18 L83.11,245.24 L81.61,245.30 L80.11,245.36 L78.61,245.41 L77.11,245.46 L75.61,245.52 L74.11,245.57 L72.61,245.61 L71.11,245.66 L69.60,245.70 L68.10,245.75 L66.60,245.79 L65.10,245.83 L63.60,245.87 L62.10,245.91 L60.60,245.96 L59.10,246.00 L57.60,246.04 L56.10,246.09 L55.60,246.10" stroke="#8a2bf4" stroke-width="1.80" fill="none" stroke-linejoin="round"/>
<g stroke="#1a1a1a" stroke-width="1.2"><rect x="51.0" y="2.5" width="335.3" height="270.1" fill="none" stroke="#1a1a1a" stroke-width="1.4"/><line x1="47.5" y1="258.6" x2="51.0" y2="258.6"/><line x1="45.5" y1="228.0" x2="51.0" y2="228.0"/><line x1="47.5" y1="197.4" x2="51.0" y2="197.4"/><line x1="45.5" y1="166.9" x2="51.0" y2="166.9"/><line x1="47.5" y1="136.3" x2="51.0" y2="136.3"/><line x1="45.5" y1="105.8" x2="51.0" y2="105.8"/><line x1="47.5" y1="75.2" x2="51.0" y2="75.2"/><line x1="45.5" y1="44.7" x2="51.0" y2="44.7"/><line x1="47.5" y1="14.1" x2="51.0" y2="14.1"/><line x1="55.6" y1="272.6" x2="55.6" y2="276.1"/><line x1="102.2" y1="272.6" x2="102.2" y2="278.4"/><line x1="148.9" y1="272.6" x2="148.9" y2="276.1"/><line x1="195.6" y1="272.6" x2="195.6" y2="278.4"/><line x1="242.2" y1="272.6" x2="242.2" y2="276.1"/><line x1="288.9" y1="272.6" x2="288.9" y2="278.4"/><line x1="335.5" y1="272.6" x2="335.5" y2="276.1"/><line x1="382.1" y1="272.6" x2="382.1" y2="278.4"/></g>
<g stroke-width="1.2"><path d="M445.6,4.2 V248.4 H747.2" fill="none" stroke="#1a1a1a" stroke-width="1.4"/><path d="M444.9,4.8 H747.2 V249.1" fill="none" stroke="#3dc1e0" stroke-width="1.4"/><line x1="440.4" y1="248.4" x2="445.6" y2="248.4" stroke="#1a1a1a"/><line x1="442.6" y1="223.9" x2="445.6" y2="223.9" stroke="#1a1a1a"/><line x1="440.4" y1="199.4" x2="445.6" y2="199.4" stroke="#1a1a1a"/><line x1="442.6" y1="174.9" x2="445.6" y2="174.9" stroke="#1a1a1a"/><line x1="440.4" y1="150.4" x2="445.6" y2="150.4" stroke="#1a1a1a"/><line x1="442.6" y1="125.9" x2="445.6" y2="125.9" stroke="#1a1a1a"/><line x1="440.4" y1="101.4" x2="445.6" y2="101.4" stroke="#1a1a1a"/><line x1="442.6" y1="76.9" x2="445.6" y2="76.9" stroke="#1a1a1a"/><line x1="440.4" y1="52.4" x2="445.6" y2="52.4" stroke="#1a1a1a"/><line x1="442.6" y1="27.9" x2="445.6" y2="27.9" stroke="#1a1a1a"/><line x1="470.5" y1="248.4" x2="470.5" y2="253.6" stroke="#1a1a1a"/><line x1="520.7" y1="248.4" x2="520.7" y2="253.6" stroke="#1a1a1a"/><line x1="570.9" y1="248.4" x2="570.9" y2="253.6" stroke="#1a1a1a"/><line x1="621.2" y1="248.4" x2="621.2" y2="253.6" stroke="#1a1a1a"/><line x1="671.4" y1="248.4" x2="671.4" y2="253.6" stroke="#1a1a1a"/><line x1="721.6" y1="248.4" x2="721.6" y2="253.6" stroke="#1a1a1a"/><line x1="747.2" y1="248.0" x2="752.5" y2="248.0" stroke="#3dc1e0"/><line x1="747.2" y1="215.6" x2="750.2" y2="215.6" stroke="#3dc1e0"/><line x1="747.2" y1="183.2" x2="752.5" y2="183.2" stroke="#3dc1e0"/><line x1="747.2" y1="150.7" x2="750.2" y2="150.7" stroke="#3dc1e0"/><line x1="747.2" y1="118.3" x2="752.5" y2="118.3" stroke="#3dc1e0"/><line x1="747.2" y1="85.9" x2="750.2" y2="85.9" stroke="#3dc1e0"/><line x1="747.2" y1="53.5" x2="752.5" y2="53.5" stroke="#3dc1e0"/><line x1="747.2" y1="21.1" x2="750.2" y2="21.1" stroke="#3dc1e0"/></g>
<path d="M473.95,129.71 L517.45,94.79 M523.80,89.02 L568.10,43.48 M573.01,44.25 L619.49,137.95 M624.76,144.49 L668.34,179.41 M675.10,184.73 L718.70,218.47" fill="none" stroke="#222" stroke-width="1.5"/>
<path d="M470.6,125.0 V139.1 M468.0,125.0 h5.2 M468.0,139.1 h5.2" stroke="#1010ff" stroke-width="1.15" fill="none"/>
<circle cx="470.6" cy="132.4" r="3.4" fill="#1414ff"/>
<circle cx="469.5" cy="131.1" r="1.0" fill="#b4b4ff"/>
<path d="M520.8,85.8 V98.0 M518.2,85.8 h5.2 M518.2,98.0 h5.2" stroke="#1010ff" stroke-width="1.15" fill="none"/>
<circle cx="520.8" cy="92.1" r="3.4" fill="#1414ff"/>
<circle cx="519.7" cy="90.8" r="1.0" fill="#b4b4ff"/>
<path d="M571.1,31.1 V49.1 M568.5,31.1 h5.2 M568.5,49.1 h5.2" stroke="#1010ff" stroke-width="1.15" fill="none"/>
<circle cx="571.1" cy="40.4" r="3.4" fill="#1414ff"/>
<circle cx="570.0" cy="39.1" r="1.0" fill="#b4b4ff"/>
<path d="M621.4,135.7 V147.9 M618.8,135.7 h5.2 M618.8,147.9 h5.2" stroke="#1010ff" stroke-width="1.15" fill="none"/>
<circle cx="621.4" cy="141.8" r="3.4" fill="#1414ff"/>
<circle cx="620.3" cy="140.5" r="1.0" fill="#b4b4ff"/>
<path d="M671.7,177.6 V186.1 M669.1,177.6 h5.2 M669.1,186.1 h5.2" stroke="#1010ff" stroke-width="1.15" fill="none"/>
<circle cx="671.7" cy="182.1" r="3.4" fill="#1414ff"/>
<circle cx="670.6" cy="180.8" r="1.0" fill="#b4b4ff"/>
<path d="M722.1,216.9 V224.5 M719.5,216.9 h5.2 M719.5,224.5 h5.2" stroke="#1010ff" stroke-width="1.15" fill="none"/>
<circle cx="722.1" cy="221.1" r="3.4" fill="#1414ff"/>
<circle cx="721.0" cy="219.8" r="1.0" fill="#b4b4ff"/>
<rect x="468.3" y="31.5" width="4.8" height="4.8" fill="#000"/>
<rect x="518.5" y="54.2" width="4.8" height="4.8" fill="#000"/>
<rect x="568.7" y="89.8" width="4.8" height="4.8" fill="#000"/>
<rect x="619.0" y="128.7" width="4.8" height="4.8" fill="#000"/>
<rect x="669.3" y="170.9" width="4.8" height="4.8" fill="#000"/>
<rect x="719.7" y="220.5" width="4.8" height="4.8" fill="#000"/>
<line x1="470.3" y1="21.9" x2="722.2" y2="209.3" stroke="#31bde0" stroke-width="1.6"/>
<line x1="643.2" y1="127.3" x2="719" y2="127.3" stroke="#31bde0" stroke-width="1.4"/>
<path d="M717.5,124.9 L725,127.3 L717.5,129.7 Z" fill="#31bde0"/>
<line x1="98.2" y1="62.8" x2="130.6" y2="62.8" stroke="#27b4d9" stroke-width="1.7"/>
<line x1="98.2" y1="80.1" x2="130.6" y2="80.1" stroke="#ff5c66" stroke-width="1.7"/>
<line x1="98.2" y1="97.7" x2="130.6" y2="97.7" stroke="#86c76a" stroke-width="1.7"/>
<line x1="98.2" y1="115.4" x2="130.6" y2="115.4" stroke="#ffd233" stroke-width="1.7"/>
<line x1="98.2" y1="132.9" x2="130.6" y2="132.9" stroke="#86dff1" stroke-width="1.7"/>
<line x1="98.2" y1="150.7" x2="130.6" y2="150.7" stroke="#8a2bf4" stroke-width="1.7"/>
<text x="42.3" y="49.3" font-family="Liberation Sans, sans-serif" font-size="14" text-anchor="end" fill="#1a1a1a">225</text>
<text x="42.3" y="110.4" font-family="Liberation Sans, sans-serif" font-size="14" text-anchor="end" fill="#1a1a1a">150</text>
<text x="42.3" y="171.5" font-family="Liberation Sans, sans-serif" font-size="14" text-anchor="end" fill="#1a1a1a">75</text>
<text x="42.3" y="232.6" font-family="Liberation Sans, sans-serif" font-size="14" text-anchor="end" fill="#1a1a1a">0</text>
<text x="102.5" y="293.1" font-family="Liberation Sans, sans-serif" font-size="14" text-anchor="middle" fill="#1a1a1a">0.6</text>
<text x="195.9" y="293.1" font-family="Liberation Sans, sans-serif" font-size="14" text-anchor="middle" fill="#1a1a1a">0.8</text>
<text x="289.2" y="293.1" font-family="Liberation Sans, sans-serif" font-size="14" text-anchor="middle" fill="#1a1a1a">1.0</text>
<text x="382.4" y="293.1" font-family="Liberation Sans, sans-serif" font-size="14" text-anchor="middle" fill="#1a1a1a">1.2</text>
<text x="218.6" y="309.4" font-family="Liberation Serif, serif" font-size="15.8" font-weight="bold" text-anchor="middle" fill="#111">E / V <tspan font-style="italic">vs.</tspan> Ag/AgCl</text>
<text transform="translate(12.2,131) rotate(-90)" font-family="Liberation Serif, serif" font-size="14" font-weight="bold" text-anchor="middle" fill="#111">I / µA</text>
<text x="54.2" y="20" font-family="Liberation Serif, serif" font-size="16" font-weight="bold" fill="#111">A</text>
<text x="134.6" y="50" font-family="Liberation Serif, serif" font-size="14" font-weight="bold" fill="#111">pH</text>
<text x="133.4" y="67.9" font-family="Liberation Serif, serif" font-size="14" font-weight="bold" fill="#111">3.0</text>
<text x="133.4" y="85.2" font-family="Liberation Serif, serif" font-size="14" font-weight="bold" fill="#111">4.0</text>
<text x="133.4" y="102.8" font-family="Liberation Serif, serif" font-size="14" font-weight="bold" fill="#111">5.0</text>
<text x="133.4" y="120.5" font-family="Liberation Serif, serif" font-size="14" font-weight="bold" fill="#111">6.0</text>
<text x="133.4" y="138.0" font-family="Liberation Serif, serif" font-size="14" font-weight="bold" fill="#111">7.0</text>
<text x="133.4" y="155.8" font-family="Liberation Serif, serif" font-size="14" font-weight="bold" fill="#111">8.0</text>
<text x="437.6" y="56.9" font-family="Liberation Sans, sans-serif" font-size="13" text-anchor="end" fill="#1a1a1a">250</text>
<text x="437.6" y="105.9" font-family="Liberation Sans, sans-serif" font-size="13" text-anchor="end" fill="#1a1a1a">200</text>
<text x="437.6" y="154.9" font-family="Liberation Sans, sans-serif" font-size="13" text-anchor="end" fill="#1a1a1a">150</text>
<text x="437.6" y="203.9" font-family="Liberation Sans, sans-serif" font-size="13" text-anchor="end" fill="#1a1a1a">100</text>
<text x="437.6" y="252.9" font-family="Liberation Sans, sans-serif" font-size="13" text-anchor="end" fill="#1a1a1a">50</text>
<text x="470.5" y="266.9" font-family="Liberation Sans, sans-serif" font-size="13" text-anchor="middle" fill="#1a1a1a">3</text>
<text x="520.7" y="266.9" font-family="Liberation Sans, sans-serif" font-size="13" text-anchor="middle" fill="#1a1a1a">4</text>
<text x="570.9" y="266.9" font-family="Liberation Sans, sans-serif" font-size="13" text-anchor="middle" fill="#1a1a1a">5</text>
<text x="621.2" y="266.9" font-family="Liberation Sans, sans-serif" font-size="13" text-anchor="middle" fill="#1a1a1a">6</text>
<text x="671.4" y="266.9" font-family="Liberation Sans, sans-serif" font-size="13" text-anchor="middle" fill="#1a1a1a">7</text>
<text x="721.6" y="266.9" font-family="Liberation Sans, sans-serif" font-size="13" text-anchor="middle" fill="#1a1a1a">8</text>
<text x="755.2" y="57.9" font-family="Liberation Sans, sans-serif" font-size="13" fill="#2fb8dc">1.0</text>
<text x="755.2" y="122.7" font-family="Liberation Sans, sans-serif" font-size="13" fill="#2fb8dc">0.9</text>
<text x="755.2" y="187.6" font-family="Liberation Sans, sans-serif" font-size="13" fill="#2fb8dc">0.8</text>
<text x="755.2" y="252.4" font-family="Liberation Sans, sans-serif" font-size="13" fill="#2fb8dc">0.7</text>
<text x="596" y="280.9" font-family="Liberation Serif, serif" font-size="14" font-weight="bold" text-anchor="middle" fill="#111">pH</text>
<text transform="translate(408.4,126.7) rotate(-90)" font-family="Liberation Serif, serif" font-size="14" font-weight="bold" text-anchor="middle" fill="#111">I / µA</text>
<text transform="translate(787.7,124.8) rotate(-90)" font-family="Liberation Serif, serif" font-size="14" font-weight="bold" text-anchor="middle" fill="#2fb8dc"><tspan font-style="italic">E</tspan> / V</text>
<text x="726.4" y="23.9" font-family="Liberation Serif, serif" font-size="16" font-weight="bold" fill="#111">B</text>
<text x="675.8" y="98.1" font-family="Liberation Serif, serif" font-size="12.6" font-weight="bold" text-anchor="middle" fill="#2fb8dc"><tspan font-style="italic">E</tspan> = -0.0577pH + 1.22</text>
<text x="669.6" y="117.2" font-family="Liberation Serif, serif" font-size="12.6" font-weight="bold" text-anchor="middle" fill="#2fb8dc">R<tspan dy="-5.5" font-size="9">2</tspan><tspan dy="5.5"> = 0.978</tspan></text>
</svg>
</body></html>
